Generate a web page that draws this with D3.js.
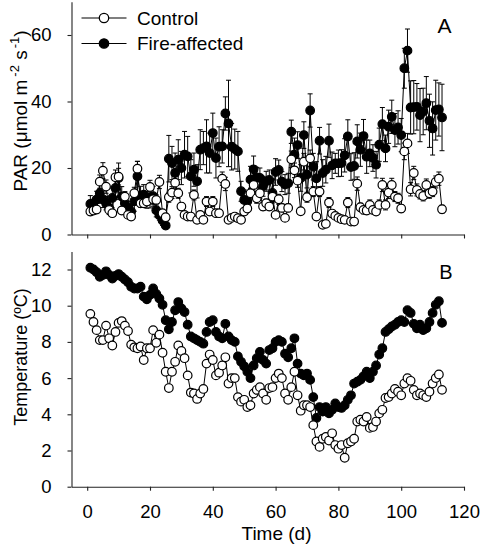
<!DOCTYPE html>
<html><head><meta charset="utf-8">
<script src="https://cdn.jsdelivr.net/npm/d3@7"></script>
<style>
body{margin:0;background:#fff}
svg{display:block}
text{font-family:"Liberation Sans",Arial,sans-serif;fill:#000}
</style>
</head><body><svg id="c" width="480" height="550"></svg>
<script>
const days = [1,2,3,4,5,6,7,8,9,10,11,12,13,14,15,16,17,18,19,20,21,22,23,24,25,26,27,28,29,30,
31,32,33,34,35,36,37,38,39,40,41,42,43,44,45,46,47,48,49,50,51,52,53,54,55,56,57,58,59,60,
61,62,63,64,65,66,67,68,69,70,71,72,73,74,75,76,77,78,79,80,81,82,83,84,85,86,87,88,89,90,
91,92,93,94,95,96,97,98,99,100,101,102,103,104,105,106,107,108,109,110,111,112,113];

const parControl = [6.9,7.2,7.5,15.9,19.2,14.4,7.4,6.4,17.2,17.4,7.2,11.4,5.9,5.4,12.4,19.8,9.4,9.4,9.9,14.3,
10.6,10.4,15.8,6.4,5.2,11.2,12.6,15.6,12.4,8.4,5.9,5.4,5.4,11.9,4.4,5.9,4.4,9.9,6.9,9.9,
6.4,6.4,16.8,15.2,4.4,5.0,5.4,4.9,4.4,6.9,7.8,12.4,14.9,10.9,12.4,8.4,9.4,8.4,11.4,5.9,
10.6,8.0,5.0,8.0,22.6,19.3,16.2,7.0,21.9,11.2,22.9,12.9,5.4,12.9,2.9,3.2,9.6,6.3,5.6,5.0,
4.6,4.4,9.6,3.9,3.9,15.3,8.2,7.4,7.2,8.9,7.4,6.9,8.9,14.9,8.9,12.6,14.9,11.4,10.9,7.8,
25.0,27.4,13.6,18.5,13.4,12.2,11.6,14.9,12.4,12.9,15.8,16.8,7.6];
const parControlErr = [1.2,1.0,1.2,2.0,2.4,2.0,1.0,1.0,2.2,2.5,1.0,1.5,1.0,1.0,1.8,2.2,1.2,1.2,1.2,2.0,
1.5,1.5,2.0,1.0,1.0,1.5,1.8,2.0,1.5,1.2,1.0,1.0,1.0,1.5,0.8,1.0,0.8,1.5,1.0,1.5,
1.0,1.0,2.0,2.0,0.8,0.8,0.8,0.8,0.8,1.0,1.2,1.5,2.0,1.5,1.5,1.2,1.2,1.2,1.5,1.0,
1.5,1.2,1.0,1.2,2.5,2.2,2.0,1.0,2.5,1.5,2.5,1.5,1.0,1.5,0.8,0.8,1.5,1.0,1.0,1.0,
0.8,0.8,1.5,0.8,0.8,2.0,1.2,1.2,1.2,1.5,1.2,1.0,1.5,2.0,1.5,1.8,2.0,1.5,1.5,1.2,
2.5,3.0,2.0,2.0,1.8,1.5,1.5,1.8,1.5,1.5,1.8,2.0,1.2];

const parFire = [9.2,8.6,10.5,12.4,10.6,9.4,8.0,11.0,14.0,17.0,11.4,9.4,8.0,6.9,10.0,17.5,11.5,12.0,10.4,11.0,
11.5,7.3,5.8,4.2,2.7,22.8,21.5,18.5,22.5,20.0,24.0,23.5,17.5,19.5,16.0,25.5,26.0,26.5,24.5,30.5,
23.0,26.4,26.5,36.4,33.4,26.4,25.7,25.0,13.0,10.4,10.0,16.5,19.6,17.2,17.0,14.5,16.0,16.4,12.5,18.8,
19.4,15.9,15.0,15.4,30.9,24.0,26.9,17.0,29.9,18.0,37.3,20.4,16.9,28.2,18.5,19.5,28.2,20.8,21.4,21.4,
21.5,23.8,29.5,20.3,20.6,28.0,25.5,29.6,23.4,24.4,23.0,21.0,27.0,33.2,25.9,32.4,35.4,31.4,32.2,29.9,
50.0,55.3,38.2,38.3,38.4,35.9,37.0,39.5,34.2,31.9,37.4,37.6,35.2];
const parFireErr = [2.5,2,2.5,3,2.5,2,2,3,3.5,4.5,3,2.5,2,2,3,4.5,3,3,2.5,3,
3,2,1.5,1.5,1,7,5,6,6,5,7,6,5,5,5,6,5,8,6,6,
6,6,5,5,13,7,6,6,3,3,3,4,4,3,3,3,3,3,3,4,
3,3,3,3,3.5,5,4,4,4,4,5,4,5,4,4,4,5,4,3,4,
4,5,5,4,4,5,5,5,5,4,4,4,5,5,4,5,5,5,5,5,
6,6.5,8,8,7,8,7,8,8,8,9,8,10];

const tempControl = [9.55,9.1,8.65,8.1,8.1,8.9,8.2,7.8,8.55,9.05,9.15,8.9,8.6,7.85,7.7,7.65,7.75,7.0,7.65,7.65,
8.65,7.95,8.4,7.4,6.35,5.45,6.35,6.9,7.8,7.5,7.1,6.15,5.2,5.15,4.85,5.15,5.4,6.8,7.3,7.0,
6.15,6.3,6.7,7.15,5.7,6.0,6.0,4.95,4.7,4.8,4.4,4.5,5.15,5.35,5.5,5.15,4.8,5.45,5.5,6.0,
6.25,6.0,5.15,4.8,5.5,6.35,5.05,4.2,4.5,4.5,4.4,3.4,2.5,2.2,2.65,2.75,2.55,2.95,2.3,2.1,
2.3,1.6,2.4,2.5,2.65,3.6,3.7,3.6,3.85,3.25,3.3,3.6,4.05,4.25,4.9,4.95,5.15,5.4,5.25,5.05,
5.7,6.0,5.85,5.35,5.05,5.15,5.05,4.95,5.25,5.7,6.0,6.2,5.35];

const tempFire = [12.1,12.0,11.85,11.6,11.7,11.9,11.7,11.5,11.65,11.75,11.6,11.45,11.3,11.05,10.95,10.95,11.05,10.5,10.35,10.6,
10.95,10.65,10.4,10.05,9.2,8.7,9.1,9.75,10.2,9.85,9.65,8.95,8.3,8.2,8.1,8.0,7.9,8.55,9.1,9.2,
8.55,8.3,8.2,9.0,8.3,8.1,8.0,7.2,6.9,6.65,6.35,6.0,6.7,7.1,7.45,7.0,6.8,7.55,7.65,8.0,
8.1,8.0,7.35,7.15,7.65,8.2,6.8,6.25,6.15,6.25,5.9,4.95,3.8,4.4,4.15,4.4,4.05,4.25,4.6,4.4,
4.35,4.5,4.8,5.05,5.7,5.8,5.9,6.1,6.35,6.0,6.35,6.7,7.3,7.65,8.55,8.7,8.85,8.95,9.1,9.2,
9.1,9.75,9.6,9.0,8.75,8.95,8.65,8.75,9.1,9.6,10.05,10.25,9.05];

const xTicks = [0,20,40,60,80,100,120];
const parTicks = [0,20,40,60];
const tempTicks = [0,2,4,6,8,10,12];
const seriesNames = ["Control","Fire-affected"];

const svg = d3.select("#c");
svg.append("rect").attr("width",480).attr("height",550).attr("fill","#fff");

const x = d3.scaleLinear().domain([-5,120]).range([71.5,464]);
const yA = d3.scaleLinear().domain([0,70]).range([234.5,1.75]);
const yB = d3.scaleLinear().domain([0,13]).range([486.7,251.4]);

const TICK_FS = 18.5;
function styleAxis(g){
  g.selectAll("path.domain").attr("stroke","#222").attr("stroke-width",1.1);
  g.selectAll(".tick line").attr("stroke","#222").attr("stroke-width",1.1);
  g.selectAll(".tick text").attr("font-size",TICK_FS).attr("fill","#000")
   .attr("font-family",'"Liberation Sans",Arial,sans-serif');
}

// Panel A axes
svg.append("g").attr("transform","translate(0,234.5)")
  .call(d3.axisBottom(x).tickValues(xTicks).tickSize(4).tickSizeOuter(0).tickFormat(""))
  .call(styleAxis);
svg.append("g").attr("transform","translate(71.5,0)")
  .call(d3.axisLeft(yA).tickValues(parTicks).tickSize(4).tickSizeOuter(0).tickPadding(16))
  .call(styleAxis);
// Panel B axes
svg.append("g").attr("transform","translate(0,486.7)")
  .call(d3.axisBottom(x).tickValues(xTicks).tickSize(4).tickSizeOuter(0).tickPadding(14))
  .call(styleAxis);
svg.append("g").attr("transform","translate(71.5,0)")
  .call(d3.axisLeft(yB).tickValues(tempTicks).tickSize(4).tickSizeOuter(0).tickPadding(16))
  .call(styleAxis);

const R = 4.3;
function drawSeries(vals, errs, y, filled){
  const data = days.map((d,i)=>({d, v:vals[i], e: errs ? errs[i] : 0}));
  const g = svg.append("g");
  if (errs){
    const eb = g.append("g").attr("stroke","#000").attr("stroke-width",1);
    data.forEach(p=>{
      const cx = x(p.d);
      eb.append("line").attr("x1",cx).attr("x2",cx).attr("y1",y(p.v-p.e)).attr("y2",y(p.v+p.e));
      eb.append("line").attr("x1",cx-2.5).attr("x2",cx+2.5).attr("y1",y(p.v+p.e)).attr("y2",y(p.v+p.e));
      eb.append("line").attr("x1",cx-2.5).attr("x2",cx+2.5).attr("y1",y(p.v-p.e)).attr("y2",y(p.v-p.e));
    });
  }
  g.append("path").datum(data)
    .attr("d", d3.line().x(p=>x(p.d)).y(p=>y(p.v)))
    .attr("fill","none").attr("stroke","#000").attr("stroke-width",1);
  g.selectAll("circle").data(data).join("circle")
    .attr("cx",p=>x(p.d)).attr("cy",p=>y(p.v)).attr("r",R)
    .attr("fill", filled ? "#000" : "#fff").attr("stroke","#000").attr("stroke-width",1.2);
}

drawSeries(parFire, parFireErr, yA, true);
drawSeries(parControl, parControlErr, yA, false);
drawSeries(tempFire, null, yB, true);
drawSeries(tempControl, null, yB, false);

// Legend
const leg = svg.append("g");
seriesNames.forEach((name,i)=>{
  const ly = 18 + i*25.5;
  leg.append("line").attr("x1",81.5).attr("x2",126.5).attr("y1",ly).attr("y2",ly)
    .attr("stroke","#000").attr("stroke-width",1.1);
  leg.append("circle").attr("cx",104).attr("cy",ly).attr("r",4.7)
    .attr("fill", i===0 ? "#fff" : "#000").attr("stroke","#000").attr("stroke-width",1.3);
  leg.append("text").attr("x",137).attr("y",ly+6.5).attr("font-size",19).text(name);
});

// Panel letters
svg.append("text").attr("x",444.5).attr("y",33.3).attr("text-anchor","middle").attr("font-size",21).text("A");
svg.append("text").attr("x",446).attr("y",279.3).attr("text-anchor","middle").attr("font-size",20).text("B");

// Axis titles
const tA = svg.append("text").attr("transform","translate(27,111) rotate(-90)")
  .attr("text-anchor","middle").attr("font-size",19);
tA.append("tspan").text("PAR (\u03bcmol m");
tA.append("tspan").attr("font-size",13).attr("dx",3).attr("dy",-8).text("-2");
tA.append("tspan").attr("dy",8).text(" s");
tA.append("tspan").attr("font-size",13).attr("dx",2).attr("dy",-8).text("-1");
tA.append("tspan").attr("dy",8).text(")");

svg.append("text").attr("transform","translate(27,357) rotate(-90)")
  .attr("text-anchor","middle").attr("font-size",18).text("Temperature (\u00baC)");

svg.append("text").attr("x",276.5).attr("y",540).attr("text-anchor","middle")
  .attr("font-size",19).text("Time (d)");
</script>
</body></html>
